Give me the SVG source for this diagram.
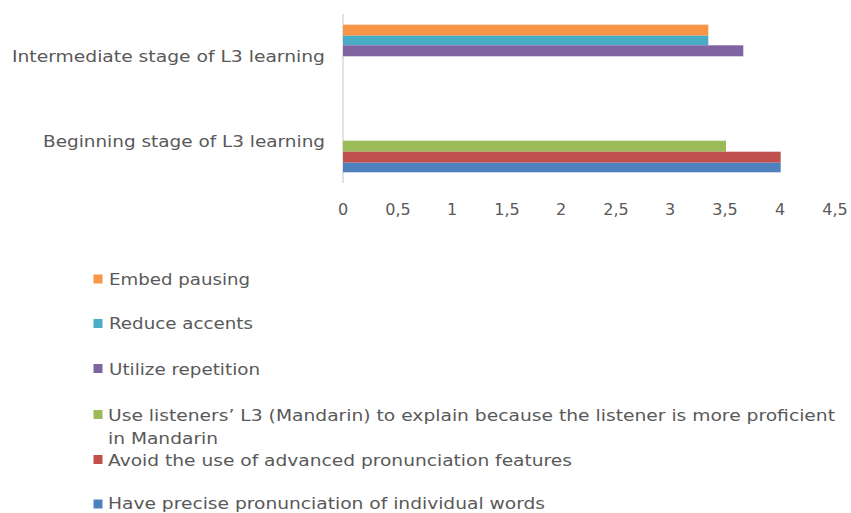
<svg xmlns="http://www.w3.org/2000/svg" width="851" height="513" viewBox="0 0 851 513">
<style>
.t{font-family:"DejaVu Sans",Verdana,sans-serif;font-size:16px;fill:#595959}
.ax{stroke:#d9d9d9;stroke-width:1.5;fill:none}
</style>
<rect width="851" height="513" fill="#ffffff"/>
<g id="axis">
<line class="ax" x1="343" y1="14" x2="343" y2="183"/>
<g class="t" text-anchor="middle">
<text x="343" y="215">0</text>
<text x="398" y="215">0,5</text>
<text x="452" y="215">1</text>
<text x="507" y="215">1,5</text>
<text x="561" y="215">2</text>
<text x="616" y="215">2,5</text>
<text x="670" y="215">3</text>
<text x="725" y="215">3,5</text>
<text x="780" y="215">4</text>
<text x="835" y="215">4,5</text>
</g>
<text class="t" x="12" y="62" textLength="313" lengthAdjust="spacingAndGlyphs">Intermediate stage of L3 learning</text>
<text class="t" x="43" y="147" textLength="282" lengthAdjust="spacingAndGlyphs">Beginning stage of L3 learning</text>
</g>
<g id="bars">
<rect x="343" y="24.7" width="365.3" height="11" fill="#f79646"/>
<rect x="343" y="35.7" width="365.3" height="9.6" fill="#4bacc6"/>
<rect x="343" y="45.3" width="400.3" height="11" fill="#8064a2"/>
<rect x="343" y="140.7" width="383" height="11" fill="#9bbb59"/>
<rect x="343" y="151.7" width="437.7" height="11" fill="#c0504d"/>
<rect x="343" y="162.7" width="437.7" height="9.6" fill="#4f81bd"/>
</g>
<g id="legend">
<rect x="93.5" y="274.5" width="9" height="9" fill="#f79646"/>
<text class="t" x="109" y="285" textLength="141" lengthAdjust="spacingAndGlyphs">Embed pausing</text>
<rect x="93.5" y="319" width="9" height="9" fill="#4bacc6"/>
<text class="t" x="109" y="329" textLength="144" lengthAdjust="spacingAndGlyphs">Reduce accents</text>
<rect x="93.5" y="364" width="9" height="9" fill="#8064a2"/>
<text class="t" x="109" y="375" textLength="151" lengthAdjust="spacingAndGlyphs">Utilize repetition</text>
<rect x="93.5" y="410" width="9" height="9" fill="#9bbb59"/>
<text class="t" x="108" y="420.5" textLength="727" lengthAdjust="spacingAndGlyphs">Use listeners’ L3 (Mandarin) to explain because the listener is more proficient</text>
<text class="t" x="108" y="443.5" textLength="110" lengthAdjust="spacingAndGlyphs">in Mandarin</text>
<rect x="93.5" y="455" width="9" height="9" fill="#c0504d"/>
<text class="t" x="108" y="466" textLength="464" lengthAdjust="spacingAndGlyphs">Avoid the use of advanced pronunciation features</text>
<rect x="93.5" y="499.5" width="9" height="9" fill="#4f81bd"/>
<text class="t" x="108" y="509" textLength="437" lengthAdjust="spacingAndGlyphs">Have precise pronunciation of individual words</text>
</g>
</svg>
